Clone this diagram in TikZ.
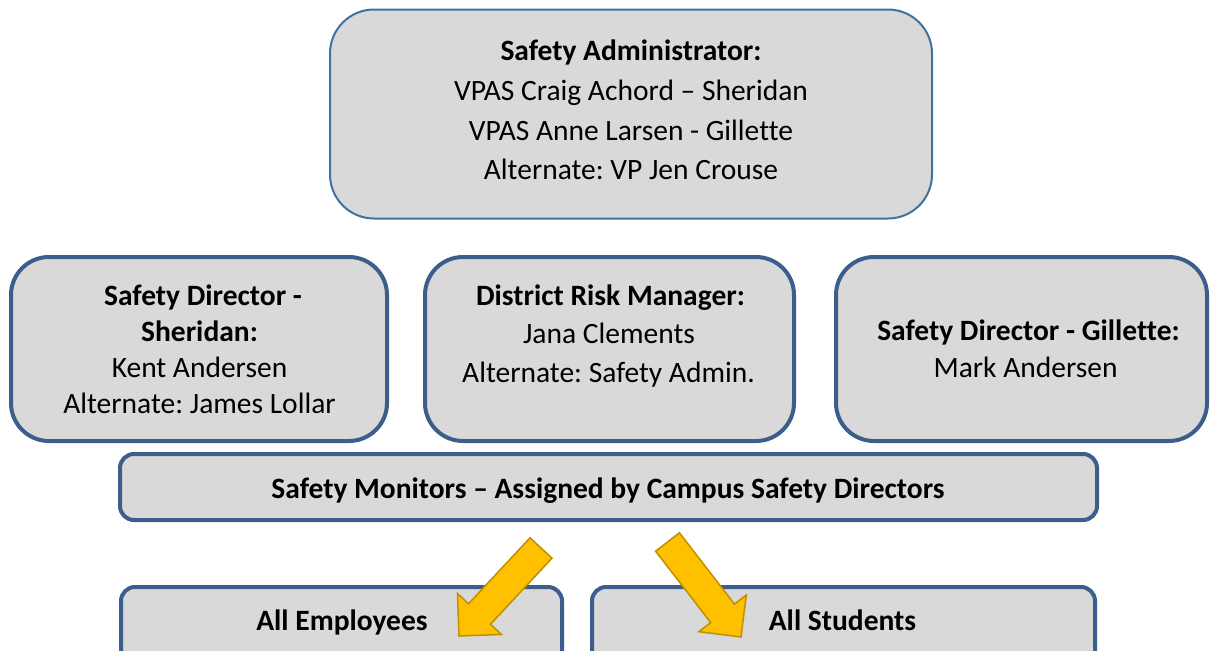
\documentclass[tikz,border=0pt]{standalone}
\usepackage{fontspec}
\setmainfont{Carlito}[Ligatures=NoCommon]
\frenchspacing
\definecolor{boxfill}{HTML}{D9D9D9}
\definecolor{edgeA}{HTML}{41719C}
\definecolor{edgeB}{HTML}{3B5E8C}
\definecolor{gold}{HTML}{FFC000}
\definecolor{golddark}{HTML}{BF9000}
\begin{document}
\begin{tikzpicture}[x=1pt,y=-1pt,
  boxthin/.style={draw=edgeA, line width=2pt, fill=boxfill, rounded corners=44pt, inner sep=0pt},
  boxthick/.style={draw=edgeB, line width=4pt, fill=boxfill, rounded corners=#1, inner sep=0pt},
  txt/.style={anchor=base, inner sep=0pt, font=\fontsize{29.5}{33}\selectfont},
  btxt/.style={txt, font=\fontsize{29.5}{33}\selectfont\bfseries},
  blockarrow/.style={draw=golddark, line width=1.5pt, fill=gold, line join=miter}]
\useasboundingbox (0,0) rectangle (1211,651);
\fill[white] (0,0) rectangle (1211,651);

% boxes
\node[boxthin, minimum width=602pt, minimum height=209pt] (admin) at (631,114) {};
\node[boxthick=38pt, minimum width=376pt, minimum height=184pt] (sher) at (199,349) {};
\node[boxthick=38pt, minimum width=369pt, minimum height=184pt] (risk) at (609.5,349) {};
\node[boxthick=38pt, minimum width=371pt, minimum height=184pt] (gill) at (1021.5,349) {};
\node[boxthick=14pt, minimum width=977pt, minimum height=66pt] (mon) at (608.5,487) {};
\node[boxthick=14pt, minimum width=441pt, minimum height=90pt] (emp) at (341.5,632) {};
\node[boxthick=14pt, minimum width=503pt, minimum height=90pt] (stu) at (843.5,632) {};

% texts
\node[btxt] (a1) at (631,60) {Safety Administrator:};
\node[txt] (a2) at (631,100) {VPAS Craig Achord – Sheridan};
\node[txt] (a3) at (631,140) {VPAS Anne Larsen - Gillette};
\node[txt] (a4) at (631,179) {Alternate: VP Jen Crouse};

\node[btxt] (s1) at (203,305) {Safety Director -};
\node[btxt] (s2) at (199.5,341) {Sheridan:};
\node[txt] (s3) at (199.5,377) {Kent Andersen};
\node[txt] (s4) at (199.5,413) {Alternate: James Lollar};

\node[btxt] (r1) at (610.5,305) {District Risk Manager:};
\node[txt] (r2) at (609,343) {Jana Clements};
\node[txt] (r3) at (608.5,382) {Alternate: Safety Admin.};

\node[btxt] (g1) at (1028.5,340) {Safety Director - Gillette:};
\node[txt] (g2) at (1025.5,377) {Mark Andersen};

\node[btxt] (m1) at (608,498) {Safety Monitors – Assigned by Campus Safety Directors};
\node[btxt] (e1) at (342,630) {All Employees};
\node[btxt] (t1) at (842.5,630) {All Students};

% block arrows
\draw[blockarrow] (552,558.2) -- (490.5,624.2) -- (501.5,634.5) -- (459,636)
  -- (457.5,593.5) -- (468.5,603.8) -- (530,537.8) -- cycle;
\draw[blockarrow] (655.6,551.2) -- (710.7,622.5) -- (698.9,631.7) -- (741,637)
  -- (746.3,594.9) -- (734.5,604.1) -- (679.4,532.8) -- cycle;
\end{tikzpicture}
\end{document}
